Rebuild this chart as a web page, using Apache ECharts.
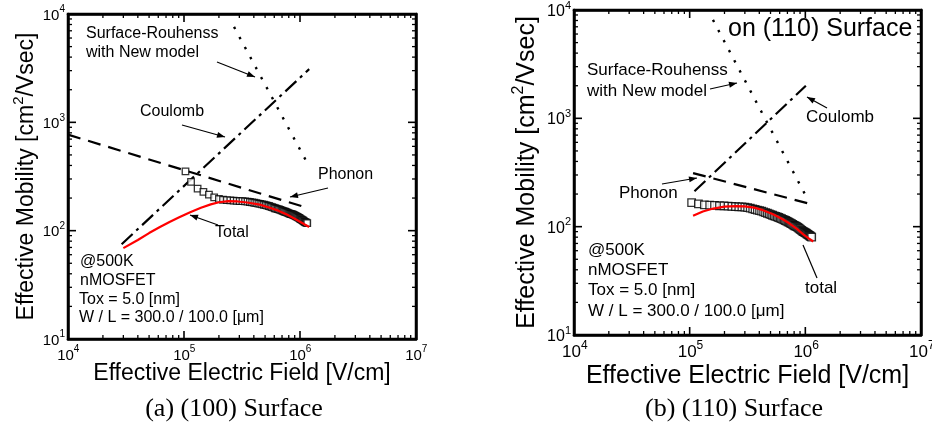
<!DOCTYPE html>
<html><head><meta charset="utf-8">
<script src="https://cdn.jsdelivr.net/npm/echarts@6/dist/echarts.min.js"></script>
<style>html,body{margin:0;padding:0;background:#fff}#c{width:932px;height:430px}</style>
</head><body><div id="c"></div>
<script>
// ---------- data ----------
const xRange = [1e4, 1e7];
const yRange = [1e1, 1e4];
const xDecades = [1e4, 1e5, 1e6];
const yDecades = [1e1, 1e2, 1e3];
const tickMantissas = [1, 2, 3, 4, 5, 6, 7, 8, 9];
const xTickLabels = [1e4, 1e5, 1e6, 1e7];   // shown as 10^4 ... 10^7
const yTickLabels = [1e1, 1e2, 1e3, 1e4];   // shown as 10^1 ... 10^4

// (a) (100) Surface
const phononA = [[1e4, 770], [1.1e6, 165]];
const coulombA = [[2.9e4, 75], [1.2e6, 3100]];
const roughA = [[2.7e5, 7600], [1.15e6, 425]];
const totalA_E  = [3.0e4, 4.0e4, 5.0e4, 6.2e4, 7.5e4, 9.0e4, 1.13e5, 1.4e5, 1.7e5, 2.0e5, 2.4e5, 2.9e5, 3.5e5, 4.5e5, 5.5e5, 6.5e5, 7.7e5, 9.0e5, 1.0e6, 1.1e6, 1.2e6];
const totalA_mu = [69, 82, 95, 108, 120, 132, 148, 163, 175, 183, 187, 186, 182, 174, 163, 153, 141, 129, 121, 114, 108];
const measA_E = [103, 115, 131, 147, 164, 182, 200, 217, 234, 251, 268, 285, 302, 319, 336, 353, 370, 387, 404, 421, 438, 455, 472, 489, 506, 523, 540, 557, 574, 591, 608, 625, 642, 659, 676, 693, 710, 727, 744, 761, 778, 795, 812, 829, 846, 863, 880, 897, 914, 931, 948, 965, 982, 999, 1016, 1033, 1050, 1067, 1084, 1101, 1118, 1135, 1155];
const measA_mu = [353, 282, 244, 228, 215, 203, 196, 193, 191, 190, 189, 188, 187.5, 187, 186, 185, 184, 182.5, 181, 179.5, 178, 176.5, 175, 173.5, 172, 170.5, 169, 167, 165, 163, 161, 159.5, 158, 157, 155.5, 154, 152.5, 151, 149.5, 148, 146.5, 145, 143.5, 142.5, 142, 141, 140, 138.5, 137, 135.5, 134, 132.5, 131, 129.5, 128, 126.5, 125, 123.5, 122, 120.5, 119.5, 118.5, 117.5];

// (b) (110) Surface
const phononB = [[1.07e5, 312], [1.13e6, 161]];
const coulombB = [[1.1e5, 212], [1.01e6, 2000]];
const roughB = [[1.59e5, 8100], [1.03e6, 185]];
const totalB_E  = [1.07e5, 1.3e5, 1.6e5, 2.0e5, 2.5e5, 3.0e5, 3.6e5, 4.3e5, 5.2e5, 6.2e5, 7.2e5, 8.4e5, 9.6e5, 1.07e6, 1.17e6];
const totalB_mu = [126, 138, 147, 153, 155, 154, 150, 142, 131, 119, 108, 96, 85, 78, 73];
const measB_E = [104, 119, 134, 149, 164, 181, 198, 215, 232, 249, 266, 283, 300, 317, 334, 351, 368, 385, 402, 419, 436, 453, 470, 487, 504, 521, 538, 555, 572, 589, 606, 623, 640, 657, 674, 691, 708, 725, 742, 759, 776, 793, 810, 827, 844, 861, 878, 895, 912, 929, 946, 963, 980, 997, 1014, 1031, 1048, 1065, 1082, 1099, 1116, 1135];
const measB_mu = [167, 162, 159, 158, 157, 156, 155.5, 155, 154, 153, 152.5, 152, 151.5, 150, 148, 146, 144, 142, 140.5, 139, 137, 135, 133, 131, 129, 127.5, 126, 124.5, 123, 121.5, 120, 118.5, 117, 115.5, 114, 112.5, 111, 109.5, 108, 106.5, 105, 103.5, 102, 101, 100, 98.5, 97, 95.5, 94, 92.5, 91, 90, 89, 88, 87, 86, 85, 84, 83, 82, 81, 80];

// ---------- helpers ----------
const SANS = "'Liberation Sans', Arial, sans-serif";
const SERIF = "'Liberation Serif', 'Times New Roman', serif";
const fontOf = (px, fam) => px + 'px ' + (fam || SANS);
const pairs = (xs, ys, k) => xs.map((x, i) => [x * (k || 1), ys[i]]);
const tickVals = (decs, last) => decs.flatMap(d => tickMantissas.map(m => m * d)).concat([last]);

function mkAxis(kind, gridIndex, position, name, nameGap, nameFs) {
  const ax = {
    type: 'log', logBase: 10, gridIndex, position,
    min: kind === 'x' ? xRange[0] : yRange[0],
    max: kind === 'x' ? xRange[1] : yRange[1],
    axisLine: { show: true, onZero: false, lineStyle: { color: '#000', width: 2.5 } },
    axisTick: { show: false },
    minorTick: { show: false },
    splitLine: { show: false },
    axisLabel: { show: false }
  };
  if (name) {
    ax.name = name; ax.nameLocation = 'middle'; ax.nameGap = nameGap;
    ax.nameTextStyle = { fontSize: nameFs, fontFamily: SANS, color: '#000',
      rich: { n: { fontSize: nameFs, fontFamily: SANS, color: '#000', lineHeight: nameFs + 4, verticalAlign: 'bottom' },
              p: { fontSize: Math.round(nameFs * 0.65), fontFamily: SANS, color: '#000', lineHeight: nameFs * 0.6, verticalAlign: 'top' } } };
  }
  return ax;
}

const yName = '{n|Effective Mobility [cm}{p|2}{n|/Vsec]}';
const xName = 'Effective Electric Field [V/cm]';

function tickSeries(xi, yi, kind) {
  const vals = kind === 'x' ? tickVals(xDecades, xRange[1]) : tickVals(yDecades, yRange[1]);
  return {
    type: 'custom', xAxisIndex: xi, yAxisIndex: yi, silent: true, clip: false, z: 6,
    data: vals.map(v => kind === 'x' ? [v, yRange[0]] : [xRange[0], v]),
    renderItem: (params, api) => {
      const v = kind === 'x' ? api.value(0) : api.value(1);
      const major = Math.abs(Math.log10(v) - Math.round(Math.log10(v))) < 1e-6;
      const L = major ? 8 : 4;
      const st = { stroke: '#000', lineWidth: major ? 1.6 : 1.3 };
      if (kind === 'x') {
        const p0 = api.coord([v, yRange[0]]), p1 = api.coord([v, yRange[1]]);
        return { type: 'group', children: [
          { type: 'line', shape: { x1: p0[0], y1: p0[1], x2: p0[0], y2: p0[1] - L }, style: st },
          { type: 'line', shape: { x1: p1[0], y1: p1[1], x2: p1[0], y2: p1[1] + L }, style: st } ] };
      } else {
        const p0 = api.coord([xRange[0], v]), p1 = api.coord([xRange[1], v]);
        return { type: 'group', children: [
          { type: 'line', shape: { x1: p0[0], y1: p0[1], x2: p0[0] + L, y2: p0[1] }, style: st },
          { type: 'line', shape: { x1: p1[0], y1: p1[1], x2: p1[0] - L, y2: p1[1] }, style: st } ] };
      }
    }
  };
}

// tick labels "10^n" drawn through the axis scale
function labelSeries(xi, yi, kind, fs) {
  const sfs = Math.round(fs * 0.68);
  const vals = kind === 'x' ? xTickLabels : yTickLabels;
  return {
    type: 'custom', xAxisIndex: xi, yAxisIndex: yi, silent: true, clip: false, z: 7,
    data: vals.map(v => kind === 'x' ? [v, yRange[0]] : [xRange[0], v]),
    renderItem: (params, api) => {
      const v = kind === 'x' ? api.value(0) : api.value(1);
      const e = String(Math.round(Math.log10(v)));
      const p = api.coord(kind === 'x' ? [v, yRange[0]] : [xRange[0], v]);
      const w10 = 1.112 * fs, ws = 0.556 * sfs;
      const base = { font: fontOf(fs), fontSize: fs, fontFamily: SANS, fill: '#000' };
      const sup = { font: fontOf(sfs), fontSize: sfs, fontFamily: SANS, fill: '#000' };
      if (kind === 'x') {
        const cx = p[0] - 2.5;
        return { type: 'group', children: [
          { type: 'text', x: cx, y: p[1] + 9, style: Object.assign({ text: '10', align: 'center', verticalAlign: 'top', textAlign: 'center', textVerticalAlign: 'top' }, base) },
          { type: 'text', x: cx + w10 / 2, y: p[1] + 5, style: Object.assign({ text: e, align: 'left', verticalAlign: 'top', textAlign: 'left', textVerticalAlign: 'top' }, sup) } ] };
      } else {
        const rx = p[0] - 3;
        return { type: 'group', children: [
          { type: 'text', x: rx - ws, y: p[1] + 1.5, style: Object.assign({ text: '10', align: 'right', verticalAlign: 'middle', textAlign: 'right', textVerticalAlign: 'middle' }, base) },
          { type: 'text', x: rx, y: p[1] - 4.5, style: Object.assign({ text: e, align: 'right', verticalAlign: 'middle', textAlign: 'right', textVerticalAlign: 'middle' }, sup) } ] };
      }
    }
  };
}

function panelSeries(xi, yi, ph, co, ro, tot, meas, msize, fsX, fsY) {
  return [
    { type: 'line', xAxisIndex: xi, yAxisIndex: yi, data: ph, showSymbol: false, silent: true,
      lineStyle: { color: '#000', width: 2.2, type: [13, 8] }, z: 3 },
    { type: 'line', xAxisIndex: xi, yAxisIndex: yi, data: co, showSymbol: false, silent: true,
      lineStyle: { color: '#000', width: 2.2, type: [15, 5, 3, 5] }, z: 3 },
    { type: 'line', xAxisIndex: xi, yAxisIndex: yi, data: ro, showSymbol: false, silent: true,
      lineStyle: { color: '#000', width: 2.4, type: [2.4, 9] }, z: 3 },
    { type: 'scatter', xAxisIndex: xi, yAxisIndex: yi, data: meas, symbol: 'rect', symbolSize: msize, silent: true,
      itemStyle: { color: '#fff', borderColor: '#000', borderWidth: 1.3 }, z: 4 },
    { type: 'line', xAxisIndex: xi, yAxisIndex: yi, data: tot, showSymbol: false, smooth: false, silent: true,
      lineStyle: { color: '#ff0000', width: 2.2 }, z: 5 },
    tickSeries(xi, yi, 'x'),
    tickSeries(xi, yi, 'y'),
    labelSeries(xi, yi, 'x', fsX),
    labelSeries(xi, yi, 'y', fsY)
  ];
}

function txt(x, y, s, fs, fam) {
  return { type: 'text', left: x, top: y, z: 10,
    style: { text: s, font: fontOf(fs, fam), fontSize: fs, fontFamily: fam || SANS, fill: '#000' } };
}
function arrow(x1, y1, x2, y2, head) {
  const out = [{ type: 'line', z: 10, shape: { x1, y1, x2, y2 }, style: { stroke: '#000', lineWidth: 1.2 } }];
  if (head !== false) {
    const a = Math.atan2(y2 - y1, x2 - x1), L = 8, W = 3;
    const bx = x2 - L * Math.cos(a), by = y2 - L * Math.sin(a);
    out.push({ type: 'polygon', z: 10, shape: { points: [[x2, y2],
      [bx + W * Math.sin(a), by - W * Math.cos(a)], [bx - W * Math.sin(a), by + W * Math.cos(a)]] },
      style: { fill: '#000' } });
  }
  return out;
}

const graphics = [].concat(
  // panel (a)
  [txt(86, 26, 'Surface-Rouhenss', 16), txt(86, 45, 'with New model', 16),
   txt(140, 104, 'Coulomb', 16), txt(318, 167, 'Phonon', 16), txt(215, 225, 'Total', 16),
   txt(80, 254, '@500K', 16), txt(80, 273, 'nMOSFET', 16), txt(79, 292, 'Tox = 5.0 [nm]', 16),
   txt(79, 310, 'W / L = 300.0 / 100.0 [μm]', 16)],
  arrow(217, 62, 255, 77), arrow(182, 125, 225, 137), arrow(328, 188, 290, 197), arrow(218, 225, 190, 215),
  // panel (b)
  [txt(728, 17, 'on (110) Surface', 25), txt(587, 62, 'Surface-Rouhenss', 17), txt(587, 83, 'with New model', 17),
   txt(806, 109, 'Coulomb', 17), txt(619, 185, 'Phonon', 17), txt(805, 280, 'total', 17),
   txt(588, 242, '@500K', 17), txt(588, 262, 'nMOSFET', 17), txt(588, 282, 'Tox = 5.0 [nm]', 17),
   txt(588, 303, 'W / L = 300.0 / 100.0 [μm]', 17)],
  arrow(710, 89, 737, 83), arrow(827, 108, 807, 97), arrow(662, 184, 697, 178), arrow(817, 278, 803, 245, false),
  // captions
  [{ type: 'text', x: 234, y: 396, z: 10, style: { text: '(a) (100) Surface', font: fontOf(26, SERIF), fontSize: 26, fontFamily: SERIF, fill: '#000', align: 'center' } },
   { type: 'text', x: 734, y: 396, z: 10, style: { text: '(b) (110) Surface', font: fontOf(26, SERIF), fontSize: 26, fontFamily: SERIF, fill: '#000', align: 'center' } }]
);

const chart = echarts.init(document.getElementById('c'), null, { renderer: 'canvas' });
chart.setOption({
  animation: false,
  backgroundColor: '#fff',
  grid: [
    { left: 68, top: 14, width: 348, height: 325, show: true, borderColor: '#000', borderWidth: 2.5, backgroundColor: 'transparent' },
    { left: 574, top: 10, width: 347, height: 325, show: true, borderColor: '#000', borderWidth: 2.5, backgroundColor: 'transparent' }
  ],
  xAxis: [
    mkAxis('x', 0, 'bottom', xName, 23, 23),
    mkAxis('x', 0, 'top'),
    mkAxis('x', 1, 'bottom', xName, 29, 25),
    mkAxis('x', 1, 'top')
  ],
  yAxis: [
    mkAxis('y', 0, 'left', yName, 30, 23),
    mkAxis('y', 0, 'right'),
    mkAxis('y', 1, 'left', yName, 34, 25),
    mkAxis('y', 1, 'right')
  ],
  series: [].concat(
    panelSeries(0, 0, phononA, coulombA, roughA, pairs(totalA_E, totalA_mu), pairs(measA_E, measA_mu, 1e3), 6.5, 15, 15),
    panelSeries(2, 2, phononB, coulombB, roughB, pairs(totalB_E, totalB_mu), pairs(measB_E, measB_mu, 1e3), 7.5, 17, 16)
  ),
  graphic: graphics
});
</script></body></html>
